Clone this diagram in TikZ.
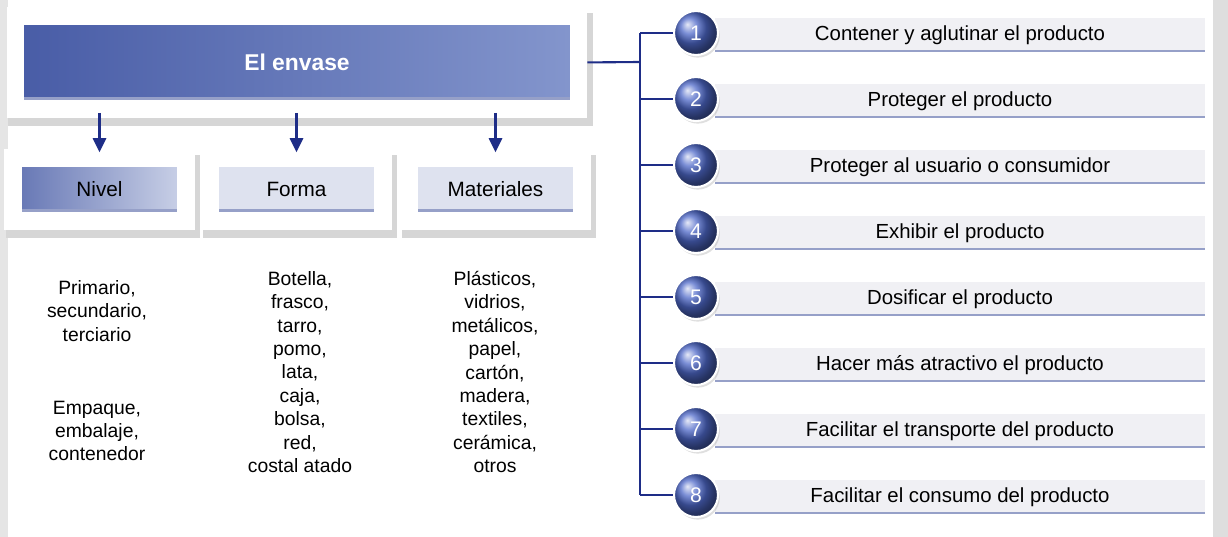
\documentclass[tikz,border=0pt]{standalone}
\usepackage{fontspec}
\setmainfont{Liberation Sans}
\usetikzlibrary{shadows,arrows.meta}

\definecolor{azul}{RGB}{30,45,135}
\definecolor{azulbola}{RGB}{78,104,200}
\definecolor{azulmedio}{RGB}{72,92,166}
\definecolor{azulclaro}{RGB}{132,150,205}
\definecolor{lila}{RGB}{222,226,239}
\definecolor{barra}{RGB}{240,240,244}
\definecolor{borde}{RGB}{150,160,200}

\begin{document}
\begin{tikzpicture}[x=0.02cm, y=-0.02cm,
    tarjeta/.style={rectangle, draw=white, line width=10pt, outer sep=0pt,
        preaction={draw=black!16, line width=12pt, transform canvas={xshift=2pt, yshift=-4pt}},
        path picture={\fill[borde] ([yshift=5pt]path picture bounding box.south west) rectangle ([yshift=6.5pt]path picture bounding box.south east);}},
    titulo/.style={tarjeta, left color=azulmedio, right color=azulclaro, minimum width=11.27cm, minimum height=1.85cm, text=white, font=\bfseries\fontsize{13}{15}\selectfont},
    rubro/.style={tarjeta, fill=lila, minimum width=3.45cm, minimum height=1.25cm, font=\fontsize{11.8}{14}\selectfont},
    lista/.style={align=center, font=\fontsize{11}{13.3}\selectfont},
    numero/.style={circle, ball color=azulbola, draw=white, line width=1.2pt, minimum size=0.88cm, text=white, font=\fontsize{12}{14}\selectfont,
        drop shadow={opacity=0.25, shadow xshift=1pt, shadow yshift=-1.5pt}},
    funcion/.style={rectangle, fill=barra, minimum width=9.8cm, minimum height=0.68cm, font=\fontsize{11.6}{14}\selectfont,
        path picture={\fill[borde] (path picture bounding box.south west) rectangle ([yshift=1.2pt]path picture bounding box.south east);}},
    flecha/.style={-{Triangle[length=8pt, width=7.5pt]}, azul, line width=1.2pt, shorten <=2.3pt, shorten >=3.4pt},
    linea/.style={azul, line width=1.2pt}
    ]
    \useasboundingbox (0,0) rectangle (1228,537);

    % scan edges
    \fill[black!10] (0,0) rectangle (8,537);
    \fill[black!13] (1213,0) rectangle (1228,537);

    % Header
    \node[titulo] (envase) at (297,62.5) {El envase};

    % Clasificacion
    \node[rubro, left color=azulmedio!85, right color=lila!80!azulclaro] (nivel) at (99.5,189.5) {Nivel};
    \node[rubro] (forma) at (296.5,189.5) {Forma};
    \node[rubro] (materiales) at (495.5,189.5) {Materiales};

    \draw[flecha] (envase.south -| nivel) -- (nivel.north);
    \draw[flecha] (envase.south -| forma) -- (forma.north);
    \draw[flecha] (envase.south -| materiales) -- (materiales.north);

    % Listas
    \node[lista] (niveles) at (97,311) {Primario,\\secundario,\\terciario};
    \node[lista] (empaques) at (97,431) {Empaque,\\embalaje,\\contenedor};
    \node[lista] (formas) at (300,372) {Botella,\\frasco,\\tarro,\\pomo,\\lata,\\caja,\\bolsa,\\red,\\costal atado};
    \node[lista] (tipos) at (495,372) {Plásticos,\\vidrios,\\metálicos,\\papel,\\cartón,\\madera,\\textiles,\\cerámica,\\otros};

    % Funciones
    \node[funcion] (fun1) at (960,35) {Contener y aglutinar el producto};
    \node[funcion] (fun2) at (960,101) {Proteger el producto};
    \node[funcion] (fun3) at (960,167) {Proteger al usuario o consumidor};
    \node[funcion] (fun4) at (960,233) {Exhibir el producto};
    \node[funcion] (fun5) at (960,299) {Dosificar el producto};
    \node[funcion] (fun6) at (960,365) {Hacer más atractivo el producto};
    \node[funcion] (fun7) at (960,431) {Facilitar el transporte del producto};
    \node[funcion] (fun8) at (960,497) {Facilitar el consumo del producto};

    \node[numero] (num1) at (696,33) {1};
    \node[numero] (num2) at (696,99) {2};
    \node[numero] (num3) at (696,165) {3};
    \node[numero] (num4) at (696,231) {4};
    \node[numero] (num5) at (696,297) {5};
    \node[numero] (num6) at (696,363) {6};
    \node[numero] (num7) at (696,429) {7};
    \node[numero] (num8) at (696,495) {8};

    % Conexiones
    \coordinate (tronco) at (640,62);
    \draw[linea, shorten <=5pt] (envase.east) -- (tronco);
    \draw[linea] (tronco |- num1) -- (tronco |- num8);
    \draw[linea] (tronco |- num1) -- (num1);
    \draw[linea] (tronco |- num2) -- (num2);
    \draw[linea] (tronco |- num3) -- (num3);
    \draw[linea] (tronco |- num4) -- (num4);
    \draw[linea] (tronco |- num5) -- (num5);
    \draw[linea] (tronco |- num6) -- (num6);
    \draw[linea] (tronco |- num7) -- (num7);
    \draw[linea] (tronco |- num8) -- (num8);

\end{tikzpicture}
\end{document}
